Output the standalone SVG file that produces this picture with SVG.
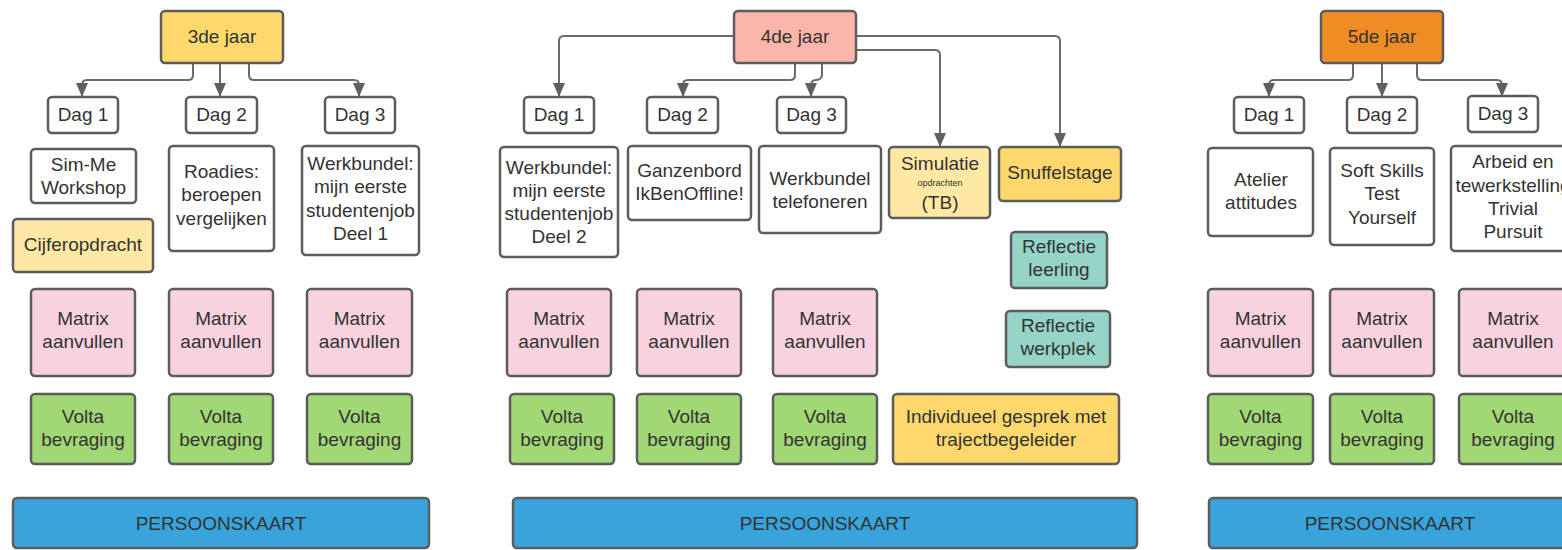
<svg xmlns="http://www.w3.org/2000/svg" width="1562" height="550" viewBox="0 0 1562 550">
<defs>
<marker id="ah" markerUnits="userSpaceOnUse" markerWidth="14" markerHeight="12" viewBox="0 0 14 12" refX="14" refY="6" orient="auto">
<path d="M0,0 L14,6 L0,12 z" fill="#5f5f5f"/>
</marker>
<style>
rect{stroke:#5c5c5c;stroke-width:2.5;}
.w{fill:#ffffff}.y{fill:#fdd96d}.ly{fill:#ffe8a4}.s{fill:#fbb5aa}.o{fill:#f08c24}
.m{fill:#f8d2de}.g{fill:#a2d775}.t{fill:#95d4c6}.b{fill:#39a4dc}
text{font-family:"Liberation Sans",Arial,sans-serif;font-size:19px;fill:#333333;text-anchor:middle;dominant-baseline:central}
.c path{fill:none;stroke:#6a6a6a;stroke-width:2;marker-end:url(#ah)}
</style>
</defs>
<rect x="0" y="0" width="1562" height="550" fill="#ffffff" style="stroke:none"/>
<g class="c" id="connectors">
<path d="M193,63 V75 Q193,80 188,80 H87 Q82,80 82,85 V97"/>
<path d="M220,63 V97"/>
<path d="M249,63 V75 Q249,80 254,80 H354 Q359,80 359,85 V97"/>
<path d="M734,36 H564 Q559,36 559,41 V97"/>
<path d="M795,63 V75 Q795,80 790,80 H688 Q683,80 683,85 V97"/>
<path d="M822,63 V74 Q822,80 816,80 Q811,80 811,86 V97"/>
<path d="M856,50 H935 Q940,50 940,55 V147"/>
<path d="M856,36 H1055 Q1060,36 1060,41 V147"/>
<path d="M1353,63 V75 Q1353,80 1348,80 H1274 Q1269,80 1269,85 V97"/>
<path d="M1382,63 V97"/>
<path d="M1417,63 V75 Q1417,80 1422,80 H1497 Q1502,80 1502,85 V97"/>
</g>
<!-- 3de jaar -->
<g id="y3"><rect class="y" x="161" y="11" width="122" height="52" rx="4"/><text x="222" y="36">3de jaar</text></g>
<g id="d31"><rect class="w" x="48" y="97" width="70" height="36" rx="4"/><text x="83" y="114">Dag 1</text></g>
<g id="d32"><rect class="w" x="186" y="97" width="71" height="36" rx="4"/><text x="221.5" y="114">Dag 2</text></g>
<g id="d33"><rect class="w" x="325" y="97" width="70" height="36" rx="4"/><text x="360" y="114">Dag 3</text></g>
<g id="sim3"><rect class="w" x="31" y="149" width="105" height="54" rx="4"/><text x="83.5" y="164">Sim-Me</text><text x="83.5" y="187">Workshop</text></g>
<g id="cijf"><rect class="ly" x="13" y="219" width="140" height="53" rx="4"/><text x="83" y="244">Cijferopdracht</text></g>
<g id="road"><rect class="w" x="169" y="146" width="105" height="105" rx="4"/><text x="221.5" y="171">Roadies:</text><text x="221.5" y="194">beroepen</text><text x="221.5" y="218">vergelijken</text></g>
<g id="wb1"><rect class="w" x="302" y="146" width="117" height="109" rx="4"/><text x="360.5" y="163">Werkbundel:</text><text x="360.5" y="186">mijn eerste</text><text x="360.5" y="210">studentenjob</text><text x="360.5" y="233">Deel 1</text></g>
<g id="m31"><rect class="m" x="31" y="289" width="104" height="87" rx="4"/><text x="83" y="318">Matrix</text><text x="83" y="341">aanvullen</text></g>
<g id="m32"><rect class="m" x="169" y="289" width="104" height="87" rx="4"/><text x="221" y="318">Matrix</text><text x="221" y="341">aanvullen</text></g>
<g id="m33"><rect class="m" x="307" y="289" width="105" height="87" rx="4"/><text x="359.5" y="318">Matrix</text><text x="359.5" y="341">aanvullen</text></g>
<g id="v31"><rect class="g" x="31" y="394" width="104" height="70" rx="4"/><text x="83" y="416">Volta</text><text x="83" y="439">bevraging</text></g>
<g id="v32"><rect class="g" x="169" y="394" width="104" height="70" rx="4"/><text x="221" y="416">Volta</text><text x="221" y="439">bevraging</text></g>
<g id="v33"><rect class="g" x="307" y="394" width="105" height="70" rx="4"/><text x="359.5" y="416">Volta</text><text x="359.5" y="439">bevraging</text></g>
<g id="p3"><rect class="b" x="13" y="498" width="416" height="50" rx="4"/><text x="221" y="523">PERSOONSKAART</text></g>
<!-- 4de jaar -->
<g id="y4"><rect class="s" x="734" y="11" width="122" height="52" rx="4"/><text x="795" y="36">4de jaar</text></g>
<g id="d41"><rect class="w" x="524" y="97" width="70" height="36" rx="4"/><text x="559" y="114">Dag 1</text></g>
<g id="d42"><rect class="w" x="647" y="97" width="71" height="36" rx="4"/><text x="682.5" y="114">Dag 2</text></g>
<g id="d43"><rect class="w" x="777" y="97" width="69" height="36" rx="4"/><text x="811.5" y="114">Dag 3</text></g>
<g id="wb2"><rect class="w" x="500" y="147" width="118" height="110" rx="4"/><text x="559" y="167">Werkbundel:</text><text x="559" y="190">mijn eerste</text><text x="559" y="213">studentenjob</text><text x="559" y="236">Deel 2</text></g>
<g id="ganz"><rect class="w" x="628" y="146" width="123" height="74" rx="4"/><text x="689.5" y="170">Ganzenbord</text><text x="689.5" y="193">IkBenOffline!</text></g>
<g id="tel"><rect class="w" x="759" y="146" width="122" height="87" rx="4"/><text x="820" y="178">Werkbundel</text><text x="820" y="201">telefoneren</text></g>
<g id="simu"><rect class="ly" x="889" y="147" width="101" height="71" rx="4"/><text x="940" y="163">Simulatie</text><text x="940" y="183" style="font-size:9px">opdrachten</text><text x="940" y="202">(TB)</text></g>
<g id="snuf"><rect class="y" x="999" y="147" width="122" height="54" rx="4"/><text x="1060" y="172">Snuffelstage</text></g>
<g id="refl"><rect class="t" x="1011" y="232" width="96" height="56" rx="4"/><text x="1059" y="246">Reflectie</text><text x="1059" y="269">leerling</text></g>
<g id="refw"><rect class="t" x="1006" y="311" width="104" height="56" rx="4"/><text x="1058" y="325">Reflectie</text><text x="1058" y="348">werkplek</text></g>
<g id="m41"><rect class="m" x="507" y="289" width="104" height="87" rx="4"/><text x="559" y="318">Matrix</text><text x="559" y="341">aanvullen</text></g>
<g id="m42"><rect class="m" x="637" y="289" width="104" height="87" rx="4"/><text x="689" y="318">Matrix</text><text x="689" y="341">aanvullen</text></g>
<g id="m43"><rect class="m" x="773" y="289" width="104" height="87" rx="4"/><text x="825" y="318">Matrix</text><text x="825" y="341">aanvullen</text></g>
<g id="v41"><rect class="g" x="510" y="394" width="104" height="70" rx="4"/><text x="562" y="416">Volta</text><text x="562" y="439">bevraging</text></g>
<g id="v42"><rect class="g" x="637" y="394" width="104" height="70" rx="4"/><text x="689" y="416">Volta</text><text x="689" y="439">bevraging</text></g>
<g id="v43"><rect class="g" x="773" y="394" width="104" height="70" rx="4"/><text x="825" y="416">Volta</text><text x="825" y="439">bevraging</text></g>
<g id="ind"><rect class="y" x="893" y="394" width="226" height="70" rx="4"/><text x="1006" y="416">Individueel gesprek met</text><text x="1006" y="439">trajectbegeleider</text></g>
<g id="p4"><rect class="b" x="513" y="498" width="624" height="50" rx="4"/><text x="825" y="523">PERSOONSKAART</text></g>
<!-- 5de jaar -->
<g id="y5"><rect class="o" x="1321" y="11" width="122" height="52" rx="4"/><text x="1382" y="36">5de jaar</text></g>
<g id="d51"><rect class="w" x="1234" y="97" width="70" height="36" rx="4"/><text x="1269" y="114">Dag 1</text></g>
<g id="d52"><rect class="w" x="1347" y="97" width="70" height="36" rx="4"/><text x="1382" y="114">Dag 2</text></g>
<g id="d53"><rect class="w" x="1468" y="96" width="70" height="36" rx="4"/><text x="1503" y="113">Dag 3</text></g>
<g id="atel"><rect class="w" x="1208" y="148" width="105" height="88" rx="4"/><text x="1261" y="179">Atelier</text><text x="1261" y="202">attitudes</text></g>
<g id="soft"><rect class="w" x="1330" y="148" width="104" height="97" rx="4"/><text x="1382" y="170">Soft Skills</text><text x="1382" y="193">Test</text><text x="1382" y="217">Yourself</text></g>
<g id="arb"><rect class="w" x="1451" y="146" width="124" height="105" rx="4"/><text x="1513" y="161">Arbeid en</text><text x="1513" y="185">tewerkstelling</text><text x="1513" y="208">Trivial</text><text x="1513" y="231">Pursuit</text></g>
<g id="m51"><rect class="m" x="1208" y="289" width="105" height="87" rx="4"/><text x="1260.5" y="318">Matrix</text><text x="1260.5" y="341">aanvullen</text></g>
<g id="m52"><rect class="m" x="1330" y="289" width="104" height="87" rx="4"/><text x="1382" y="318">Matrix</text><text x="1382" y="341">aanvullen</text></g>
<g id="m53"><rect class="m" x="1459" y="289" width="108" height="87" rx="4"/><text x="1513" y="318">Matrix</text><text x="1513" y="341">aanvullen</text></g>
<g id="v51"><rect class="g" x="1208" y="394" width="105" height="70" rx="4"/><text x="1260.5" y="416">Volta</text><text x="1260.5" y="439">bevraging</text></g>
<g id="v52"><rect class="g" x="1330" y="394" width="104" height="70" rx="4"/><text x="1382" y="416">Volta</text><text x="1382" y="439">bevraging</text></g>
<g id="v53"><rect class="g" x="1459" y="394" width="108" height="70" rx="4"/><text x="1513" y="416">Volta</text><text x="1513" y="439">bevraging</text></g>
<g id="p5"><rect class="b" x="1209" y="498" width="362" height="50" rx="4"/><text x="1390" y="523">PERSOONSKAART</text></g>
</svg>
